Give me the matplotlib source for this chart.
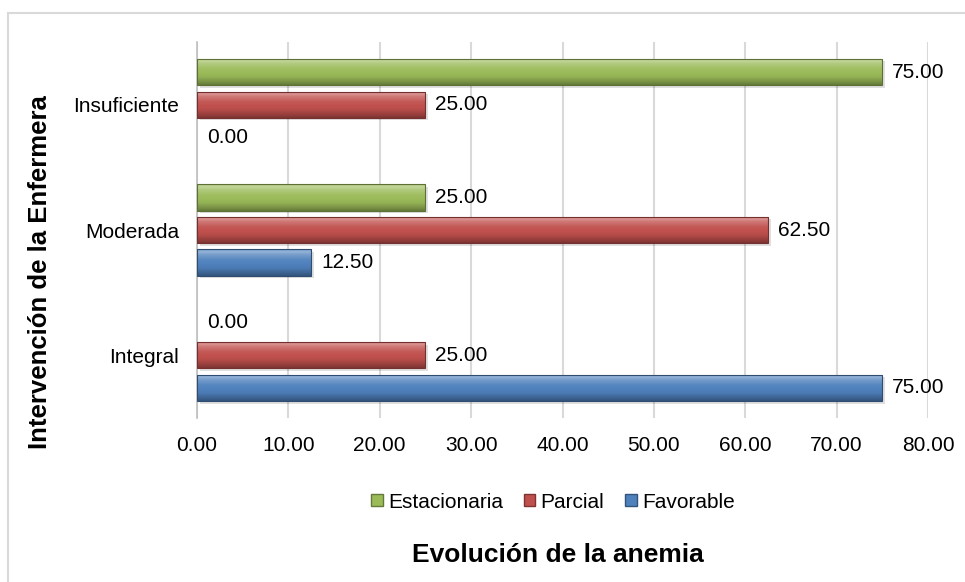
import matplotlib
matplotlib.use("Agg")
import matplotlib.pyplot as plt
import numpy as np
from matplotlib.colors import to_rgb
from matplotlib.lines import Line2D
from matplotlib.patches import Patch, Rectangle
from matplotlib import font_manager

categories = ["Integral", "Moderada", "Insuficiente"]
series_names = ["Favorable", "Parcial", "Estacionaria"]
favorable = [75.00, 12.50, 0.00]
parcial = [25.00, 62.50, 25.00]
estacionaria = [0.00, 25.00, 75.00]
x_ticks = [0, 10, 20, 30, 40, 50, 60, 70, 80]

colors = {"Favorable": "#4F81BD", "Parcial": "#C0504D", "Estacionaria": "#9BBB59"}

available = {f.name for f in font_manager.fontManager.ttflist}
fam = [f for f in ["Liberation Sans Narrow", "Arial Narrow", "Liberation Sans", "DejaVu Sans"] if f in available]
plt.rcParams["font.family"] = fam

fig = plt.figure(figsize=(9.65, 5.82), dpi=100)
W, H = 965, 582
ax = fig.add_axes([197 / W, 1 - 418 / H, (928 - 197) / W, (418 - 42) / H])

# outer chart frame
fig.add_artist(Line2D([8 / W, 1], [1 - 13 / H, 1 - 13 / H], transform=fig.transFigure, color="#D9D9D9", lw=1.5))
fig.add_artist(Line2D([8 / W, 8 / W], [1 - 13 / H, 0], transform=fig.transFigure, color="#D9D9D9", lw=1.5))

y = np.arange(len(categories))
h = 0.21
step = 0.26
values = {"Favorable": favorable, "Parcial": parcial, "Estacionaria": estacionaria}
offsets = {"Favorable": -step, "Parcial": 0.0, "Estacionaria": step}


def shade(c, f):
    r = np.array(to_rgb(c))
    if f >= 0:
        return r + (1 - r) * f
    return r * (1 + f)


for name in series_names:
    vals = values[name]
    c = colors[name]
    bars = ax.barh(y + offsets[name], vals, height=h, color=c, linewidth=0, zorder=3)
    for bar, v in zip(bars, vals):
        if v > 0:
            x0, y0 = bar.get_x(), bar.get_y()
            bw, bh = bar.get_width(), bar.get_height()
            # vertical gradient for a bevelled look
            t = np.linspace(0, 1, 64)
            prof = np.interp(t, [0, 0.12, 0.3, 0.6, 0.82, 0.9, 1.0], [-0.35, -0.22, -0.05, 0.05, 0.25, 0.4, 0.2])
            grad = np.array([shade(c, p) for p in prof])[:, None, :]
            im = ax.imshow(grad, extent=[x0, x0 + bw, y0, y0 + bh], origin="lower", aspect="auto", zorder=3.5, interpolation="bilinear")
            im.set_clip_path(bar)
            ax.add_patch(Rectangle((x0, y0), bw, bh, fill=False, edgecolor=shade(c, -0.4), lw=0.8, zorder=4))
            # soft drop shadow
            ax.add_patch(Rectangle((x0 + 0.3, y0 - 0.02), bw, bh, facecolor="#000000", alpha=0.12, lw=0, zorder=2.5))
        ax.text(v + 1.1, bar.get_y() + bar.get_height() / 2, f"{v:.2f}", va="center", ha="left", fontsize=15, color="#000000", zorder=5)

ax.set_xlim(0, 80)
ax.set_ylim(-0.5, 2.5)
ax.set_xticks(x_ticks)
ax.set_xticklabels([f"{t:.2f}" for t in x_ticks], fontsize=15)
ax.set_yticks(y)
ax.set_yticklabels(categories, fontsize=15)
ax.tick_params(axis="x", length=0, pad=13)
ax.tick_params(axis="y", length=0, pad=13)
ax.grid(axis="x", color="#D9D9D9", lw=1.5, zorder=0)
ax.set_axisbelow(True)
for s in ["top", "right", "bottom"]:
    ax.spines[s].set_visible(False)
ax.spines["left"].set_color("#BFBFBF")
ax.spines["left"].set_linewidth(1.2)

handles = [Patch(facecolor=colors[n], edgecolor=shade(colors[n], -0.35), label=n) for n in ["Estacionaria", "Parcial", "Favorable"]]
fig.legend(handles=handles, loc="center", bbox_to_anchor=(553 / W, 1 - 502 / H), ncol=3, frameon=False,
           fontsize=15, handlelength=0.55, handleheight=0.55, handletextpad=0.25, columnspacing=1.0)

fig.text(558 / W, 1 - 555 / H, "Evolución de la anemia", ha="center", va="center", fontsize=19, fontweight="bold")
fig.text(40 / W, 1 - 272 / H, "Intervención de la Enfermera", ha="center", va="center", rotation=90, fontsize=18.5, fontweight="bold")

fig.savefig("out.png", dpi=100)
